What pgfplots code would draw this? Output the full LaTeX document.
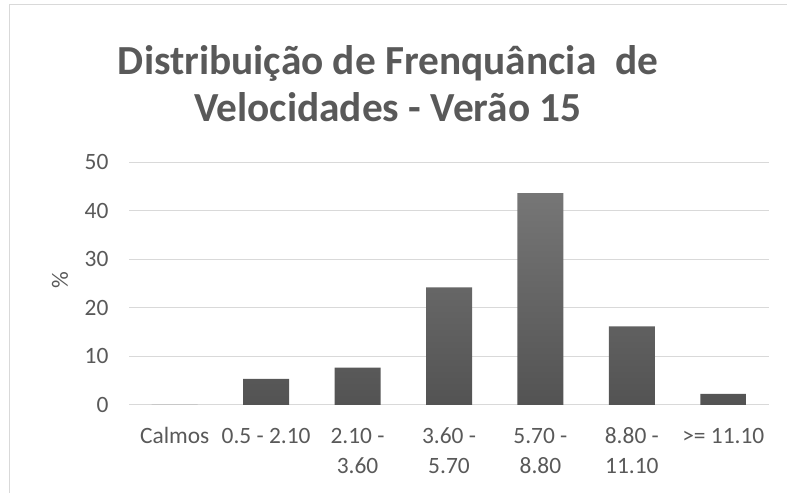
\documentclass[border=0pt]{standalone}
\usepackage{fontspec}
\setmainfont{Carlito}
\usepackage{pgfplots}
\pgfplotsset{compat=1.18}
\definecolor{txtgray}{HTML}{595959}
\definecolor{gridgray}{HTML}{D9D9D9}
\definecolor{bartop}{HTML}{767676}
\definecolor{barbot}{HTML}{535353}

\begin{document}
\begin{tikzpicture}
\useasboundingbox (0,0) rectangle (787bp,493bp);
% chart frame (cropped)
\draw[gridgray, line width=1bp] (9bp,0) -- (9bp,488bp) -- (787bp,488bp);
% title
\node[text=txtgray, align=center, font=\fontsize{41.5}{47}\selectfont\bfseries]
  at (388bp,409bp) {Distribuição de Frenquância\ \ de\\Velocidades - Verão 15};

\begin{axis}[
  at={(129bp,88bp)}, anchor=south west,
  scale only axis, width=640bp, height=243bp,
  ybar, bar width=46bp,
  xmin=-0.5, xmax=6.5,
  ymin=0, ymax=50,
  ytick={0,10,20,30,40,50},
  xtick=data,
  xticklabels={\strut Calmos, \strut 0.5 - 2.10, {\strut 2.10 -\\3.60}, {\strut 3.60 -\\5.70},
    {\strut 5.70 -\\8.80}, {\strut 8.80 -\\11.10}, \strut >= 11.10},
  xticklabel style={align=center, anchor=north, text=txtgray, font=\fontsize{23.5}{30}\selectfont, yshift=-10bp},
  yticklabel style={text=txtgray, font=\fontsize{23.5}{28}\selectfont, xshift=-17bp},
  /pgf/number format/assume math mode=true,
  ymajorgrids,
  grid style={gridgray, line width=1bp},
  axis line style={draw=none},
  major tick style={draw=none},
  ylabel={\%},
  ylabel style={at={(axis description cs:-0.108,0.514)}, anchor=center, text=txtgray, font=\fontsize{23.5}{28}\selectfont},
]
\addplot[draw=none, shade, top color=bartop, bottom color=barbot]
  coordinates {(0,0) (1,5.4) (2,7.7) (3,24.2) (4,43.6) (5,16.2) (6,2.3)};
\end{axis}
\end{tikzpicture}
\end{document}
